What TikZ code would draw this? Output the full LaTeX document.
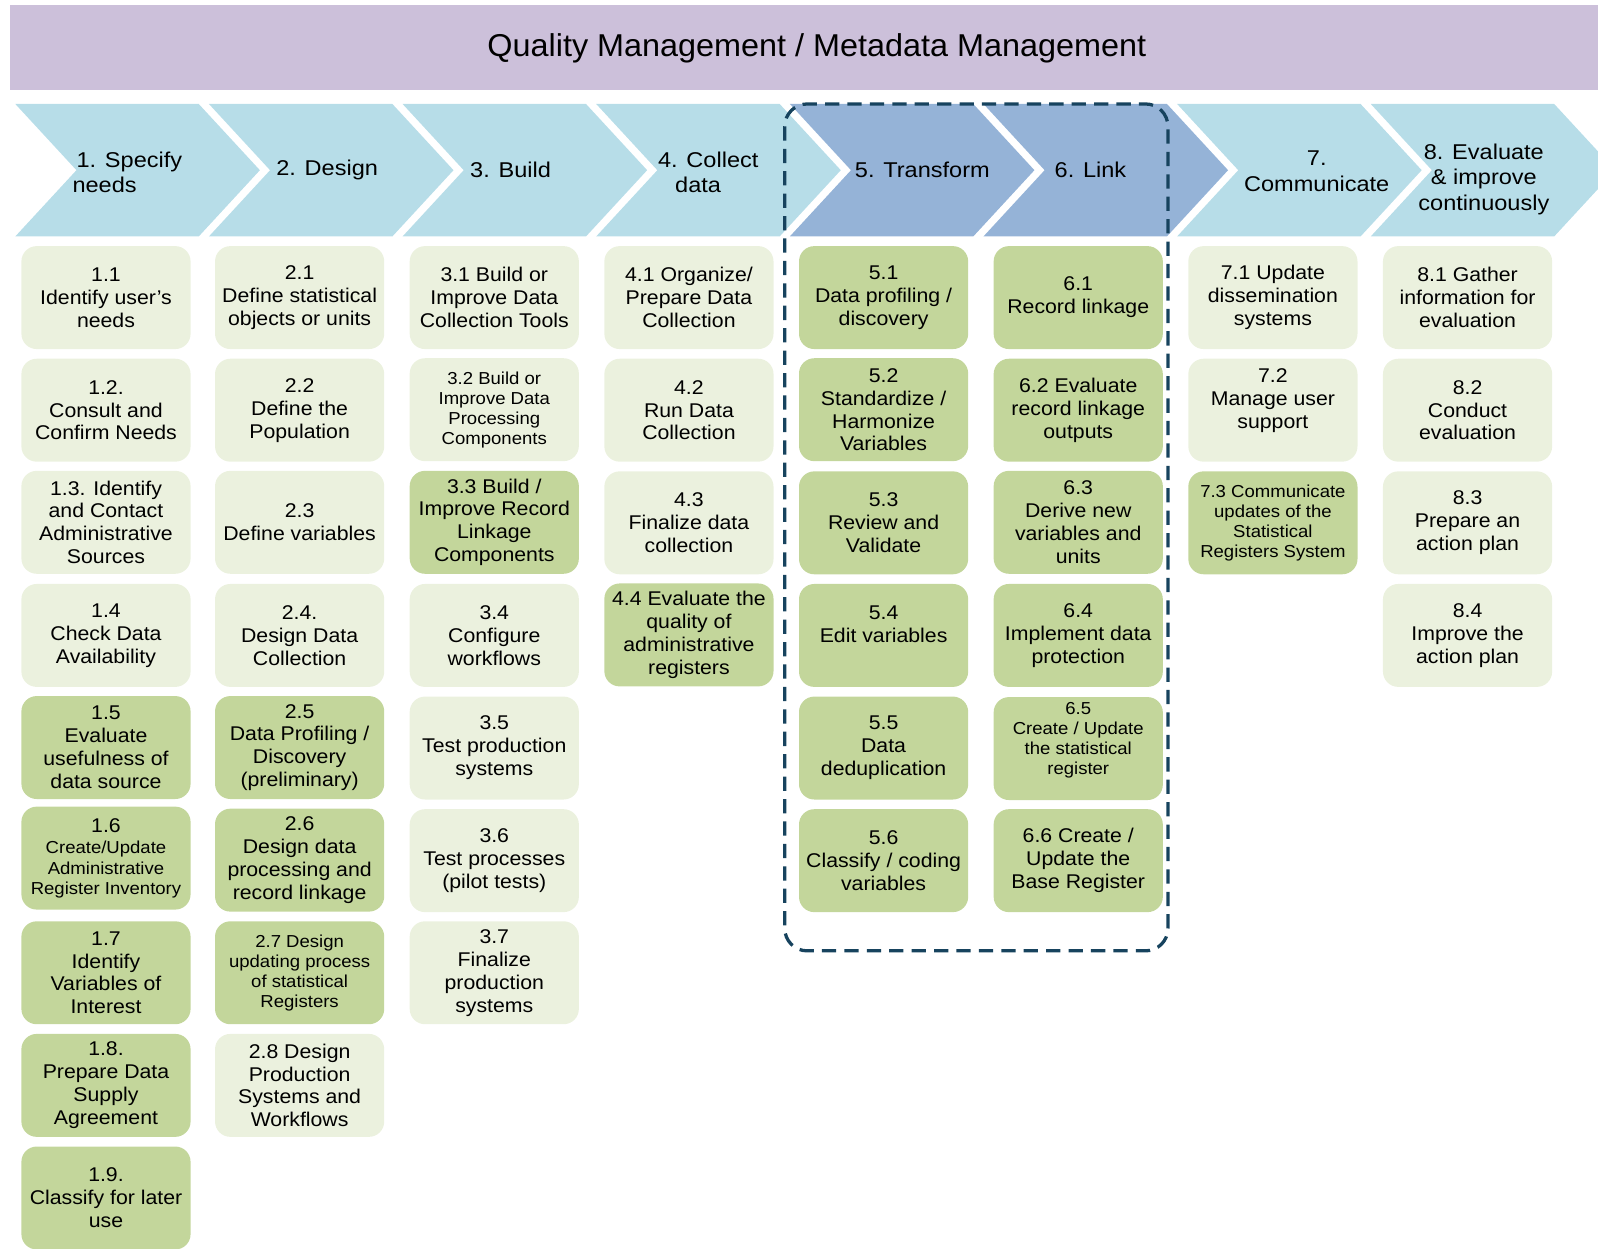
\documentclass[tikz,border=0pt]{standalone}
\usepackage{fontspec}
\setmainfont{Liberation Sans}
\newfontfamily\boxfont[FakeStretch=1.07]{Liberation Sans}
\newfontfamily\chevfont[FakeStretch=1.1]{Liberation Sans}
\newfontfamily\headfont[FakeStretch=1.025]{Liberation Sans}
\newcommand\smallbx{\boxfont\fontsize{17}{19.7}\selectfont}
\newcommand\normbx{\boxfont\fontsize{19.5}{22.5}\selectfont}
\definecolor{hdr}{HTML}{CCC0DA}
\definecolor{chevL}{HTML}{B7DDE8}
\definecolor{chevD}{HTML}{95B3D7}
\definecolor{boxL}{HTML}{EBF1DE}
\definecolor{boxD}{HTML}{C3D69B}
\definecolor{dashc}{HTML}{17435E}
\tikzset{
  base/.style={rounded corners=15pt, minimum width=166pt, minimum height=101pt, inner sep=0pt, align=center, text=black, font=\normbx},
  lbox/.style={base, fill=boxL},
  dbox/.style={base, fill=boxD},
  sm/.style={font=\smallbx},
  chevtext/.style={inner sep=0pt, align=center, text=black, font=\chevfont\fontsize{21}{25}\selectfont},
  dashbox/.style={draw=dashc, line width=3.2pt, dash pattern=on 14pt off 8pt, rounded corners=22pt}
}
\begin{document}
\begin{tikzpicture}[x=1pt,y=-1pt]
\useasboundingbox (0,0) rectangle (1568,1225);
% header band
\node[fill=hdr, minimum width=1558pt, minimum height=83pt, inner sep=0pt, anchor=north west] (band) at (10,5) {};
\node[font=\headfont\fontsize{31}{36}\selectfont, inner sep=0pt] (title) at (801.5,47.5) {Quality Management / Metadata Management};
% chevrons
\foreach \i/\c in {0/chevL,1/chevL,2/chevL,3/chevL,4/chevD,5/chevD,6/chevL,7/chevL}{
  \fill[\c] ({15+190*\i},102) -- ++(180,0) -- ++(60,65) -- ++(-60,65) -- ++(-180,0) -- ++(60,-65) -- cycle;
}
\node[chevtext, align=left, anchor=west] (c1) at (71,169) {\hspace{4pt}1. Specify\\needs};
\node[chevtext] (c2) at (321,167) {2. Design};
\node[chevtext] (c3) at (501,167) {3. Build};
\node[chevtext] (c4) at (695,169) {4. Collect\\\hbox{data\kern20pt}};
\node[chevtext] (c5) at (905,167) {5. Transform};
\node[chevtext] (c6) at (1070,167) {6. Link};
\node[chevtext] (c7) at (1292,168) {7.\\Communicate};
\node[chevtext] (c8) at (1456,176) {8. Evaluate\\\& improve\\continuously};
% column 1
\node[lbox] (b11) at (104,292) {1.1\\Identify user’s\\needs};
\node[lbox] (b12) at (104,402.5) {1.2.\\Consult and\\Confirm Needs};
\node[lbox] (b13) at (104,512.5) {1.3. Identify\\and Contact\\Administrative\\Sources};
\node[lbox] (b14) at (104,623.5) {1.4\\Check Data\\Availability};
\node[dbox] (b15) at (104,733.5) {1.5\\Evaluate\\usefulness of\\data source};
\node[dbox, sm] (b16) at (104,842) {\normbx 1.6\\[1.5pt]Create/Update\\Administrative\\Register Inventory};
\node[dbox] (b17) at (104,954.5) {1.7\\Identify\\Variables of\\Interest};
\node[dbox] (b18) at (104,1065) {1.8.\\Prepare Data\\Supply\\Agreement};
\node[dbox] (b19) at (104,1175.5) {1.9.\\Classify for later\\use};
% column 2
\node[lbox] (b21) at (294,292) {2.1\\Define statistical\\objects or units};
\node[lbox] (b22) at (294,402.5) {2.2\\Define the\\Population};
\node[lbox] (b23) at (294,512.5) {2.3\\Define variables};
\node[lbox] (b24) at (294,623.5) {2.4.\\Design Data\\Collection};
\node[dbox] (b25) at (294,733.5) {2.5\\Data Profiling /\\Discovery\\(preliminary)};
\node[dbox] (b26) at (294,844) {2.6\\Design data\\processing and\\record linkage};
\node[dbox, sm] (b27) at (294,954.5) {2.7 Design\\updating process\\of statistical\\Registers};
\node[lbox] (b28) at (294,1065) {2.8 Design\\Production\\Systems and\\Workflows};
% column 3
\node[lbox] (b31) at (485,292) {3.1 Build or\\Improve Data\\Collection Tools};
\node[lbox, sm] (b32) at (485,402) {3.2 Build or\\Improve Data\\Processing\\Components};
\node[dbox] (b33) at (485,512.5) {3.3 Build /\\Improve Record\\Linkage\\Components};
\node[lbox] (b34) at (485,623.5) {3.4\\Configure\\workflows};
\node[lbox] (b35) at (485,734) {3.5\\Test production\\systems};
\node[lbox] (b36) at (485,844.5) {3.6\\Test processes\\(pilot tests)};
\node[lbox] (b37) at (485,954.5) {3.7\\Finalize\\production\\systems};
% column 4
\node[lbox] (b41) at (676,292) {4.1 Organize/\\Prepare Data\\Collection};
\node[lbox] (b42) at (676,402.5) {4.2\\Run Data\\Collection};
\node[lbox] (b43) at (676,513) {4.3\\Finalize data\\collection};
\node[dbox] (b44) at (676,623) {4.4 Evaluate the\\quality of\\administrative\\registers};
% column 5
\node[dbox] (b51) at (867,292) {5.1\\Data profiling /\\discovery};
\node[dbox] (b52) at (867,402) {5.2\\Standardize /\\Harmonize\\Variables};
\node[dbox] (b53) at (867,513) {5.3\\Review and\\Validate};
\node[dbox] (b54) at (867,623.5) {5.4\\Edit variables\\~};
\node[dbox] (b55) at (867,734) {5.5\\Data\\deduplication};
\node[dbox] (b56) at (867,844.5) {5.6\\Classify / coding\\variables};
% column 6
\node[dbox] (b61) at (1058,292) {6.1\\Record linkage};
\node[dbox] (b62) at (1058,402.5) {6.2 Evaluate\\record linkage\\outputs};
\node[dbox] (b63) at (1058,512.5) {6.3\\Derive new\\variables and\\units};
\node[dbox] (b64) at (1058,623.5) {6.4\\Implement data\\protection};
\node[dbox, sm] (b65) at (1058,734.5) {6.5\\Create / Update\\the statistical\\register\\~};
\node[dbox] (b66) at (1058,844.5) {6.6 Create /\\Update the\\Base Register};
% column 7
\node[lbox] (b71) at (1249,292) {7.1 Update\\dissemination\\systems};
\node[lbox] (b72) at (1249,402.5) {7.2\\Manage user\\support\\~};
\node[dbox, sm] (b73) at (1249,513) {7.3 Communicate\\updates of the\\Statistical\\Registers System};
% column 8
\node[lbox] (b81) at (1440,292) {8.1 Gather\\information for\\evaluation};
\node[lbox] (b82) at (1440,402.5) {8.2\\Conduct\\evaluation};
\node[lbox] (b83) at (1440,513) {8.3\\Prepare an\\action plan};
\node[lbox] (b84) at (1440,623.5) {8.4\\Improve the\\action plan};
% dashed grouping box
\draw[dashbox] (770,102) rectangle (1146,933);
\end{tikzpicture}
\end{document}
